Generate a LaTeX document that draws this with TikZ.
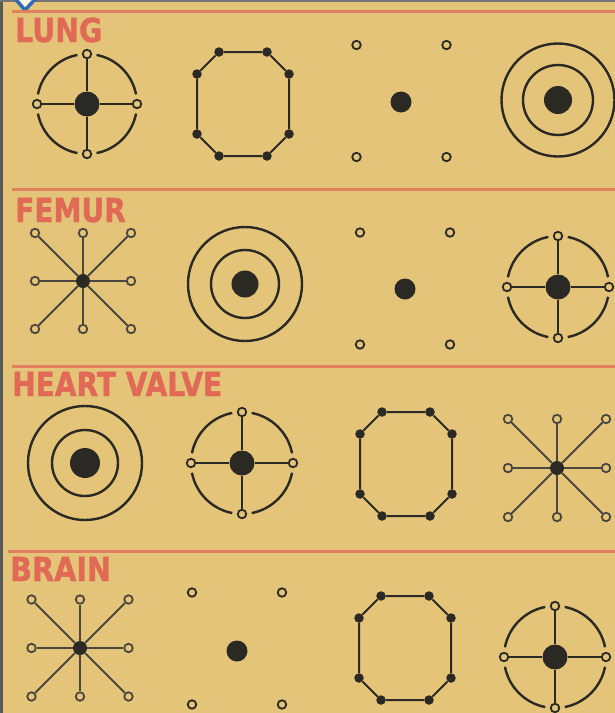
\documentclass[tikz,border=0pt]{standalone}
\usepackage{fontspec}
\newfontfamily\lblfont[FakeBold=1.3]{DejaVu Sans Bold}
\definecolor{bg}{HTML}{E3C479}
\definecolor{ink}{HTML}{2A2924}
\definecolor{spoke}{HTML}{4A473E}
\definecolor{lblred}{HTML}{E06A55}
\definecolor{rule}{HTML}{E0805E}
\definecolor{dia}{HTML}{2F6CB5}
\tikzset{
 inkline/.style={draw=ink, line width=2.4pt},
 hub/.style={circle, fill=ink, draw=none, inner sep=0pt, minimum size=#1},
 ring/.style={circle, draw=ink, fill=bg, line width=1.8pt, inner sep=0pt, minimum size=8.5pt},
 vdot/.style={circle, fill=ink, inner sep=0pt, minimum size=9.5pt},
 hoop/.style={circle, draw=ink, line width=2.4pt, inner sep=0pt, minimum size=#1},
 sectitle/.style={text=lblred, font=\lblfont\fontsize{33}{33}\selectfont, anchor=base west, inner sep=0pt},
 rulebar/.style={draw=rule, line width=3pt},
}
% crosshair icon: name, x, y, radius
\newcommand\crossicon[4]{%
 \begin{scope}[shift={(#2,#3)}]
  \node[hub=25pt] (#1c) at (0,0) {};
  \foreach \a/\dd in {0/e,90/n,180/w,270/s}{
   \node[ring] (#1\dd) at (\a:#4) {};
   \draw[inkline] (\a+11:#4) arc[start angle=\a+11, end angle=\a+79, radius=#4];
   \draw[inkline] (#1c) -- (#1\dd);
  }
 \end{scope}}
% target icon: name, x, y, outer diam, middle diam, dot diam
\newcommand\targeticon[6]{%
 \node[hub=#6] (#1c) at (#2,#3) {};
 \node[hoop=#5] (#1m) at (#2,#3) {};
 \node[hoop=#4] (#1o) at (#2,#3) {};}
% dots icon: name, ring-centre x, y, hub x, y
\newcommand\dotsicon[5]{%
 \node[hub=21pt] (#1c) at (#4,#5) {};
 \begin{scope}[shift={(#2,#3)}]
  \node[ring] (#1a) at (-45,-56) {};
  \node[ring] (#1b) at (45,-56) {};
  \node[ring] (#1d) at (-45,56) {};
  \node[ring] (#1e) at (45,56) {};
 \end{scope}}
% octagon icon: name, x, y
\newcommand\octicon[3]{%
 \begin{scope}[shift={(#2,#3)}]
  \foreach \p/\xx/\yy in {1/-24/-52, 2/24/-52, 3/46/-30, 4/46/30, 5/24/52, 6/-24/52, 7/-46/30, 8/-46/-30}
   \node[vdot] (#1\p) at (\xx,\yy) {};
  \draw[draw=ink, line width=2pt] (#11) -- (#12) -- (#13) -- (#14) -- (#15) -- (#16) -- (#17) -- (#18) -- (#11);
 \end{scope}}
% star icon: name, x, y, half size
\newcommand\staricon[4]{%
 \begin{scope}[shift={(#2,#3)}]
  \node[hub=14pt] (#1hub) at (0,0) {};
  \foreach \dd/\xx/\yy in {1/-1/-1, 2/0/-1, 3/1/-1, 4/1/0, 5/1/1, 6/0/1, 7/-1/1, 8/-1/0}{
   \node[ring, draw=spoke] (#1r\dd) at (\xx*#4, \yy*#4) {};
   \draw[draw=spoke, line width=2pt] (#1hub) -- (#1r\dd);
  }
 \end{scope}}
\begin{document}
\begin{tikzpicture}[x=1pt, y=-1pt]
\useasboundingbox (0,0) rectangle (615,713);
\fill[bg] (0,0) rectangle (615,713);
% page edges and corner mark
\fill[black!65] (0,0) rectangle (2.5,713);
\fill[black!55] (0,0) rectangle (615,1.5);
\filldraw[fill=white!80!bg, draw=dia, line width=3.5pt] (11,-6) -- (25,10) -- (40,-6);
% section rules
\foreach \i/\yy/\xs in {1/11/12, 2/189/12, 3/366/12, 4/551/8}{
 \coordinate (r\i a) at (\xs,\yy);
 \coordinate (r\i b) at (615,\yy);
 \draw[rulebar] (r\i a) -- (r\i b);
}
% titles
\node[sectitle] (t1) at (15,42) {\scalebox{0.86}[1]{LUNG}};
\node[sectitle] (t2) at (15,222) {\scalebox{0.85}[1]{FEMUR}};
\node[sectitle] (t3) at (12,396) {\scalebox{0.85}[1]{HEART VALVE}};
\node[sectitle] (t4) at (10,581) {\scalebox{0.87}[1]{BRAIN}};
% LUNG
\crossicon{La}{87}{104}{50}
\octicon{Lb}{243}{104}
\dotsicon{Lc}{401.5}{101}{401}{102}
\targeticon{Ld}{558}{100}{113pt}{70pt}{28pt}
% FEMUR
\staricon{Fa}{83}{281}{48}
\targeticon{Fb}{245}{284}{114pt}{68pt}{27pt}
\dotsicon{Fc}{405}{288.5}{405}{289}
\crossicon{Fd}{558}{287}{51}
% HEART VALVE
\targeticon{Ha}{85}{463}{114pt}{66pt}{30pt}
\crossicon{Hb}{242}{463}{51}
\octicon{Hc}{406}{464}
\staricon{Hd}{557}{468}{49}
% BRAIN
\staricon{Ba}{80}{648}{48.5}
\dotsicon{Bb}{237}{648.5}{237}{651}
\octicon{Bc}{405}{648}
\crossicon{Bd}{555}{657}{51}
\end{tikzpicture}
\end{document}
